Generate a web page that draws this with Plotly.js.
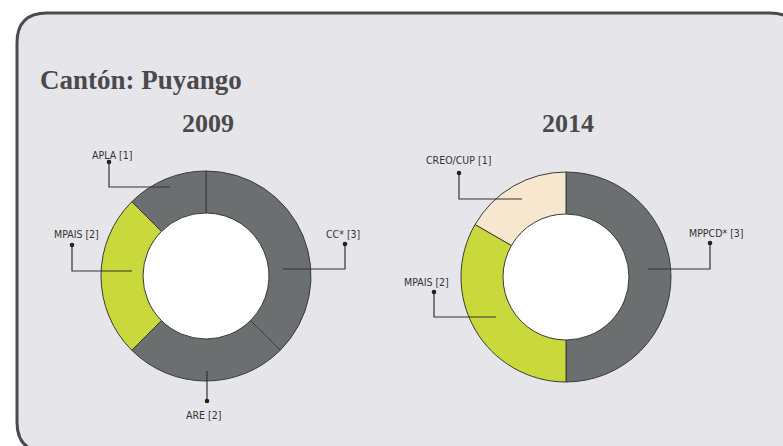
<!DOCTYPE html>
<html>
<head>
<meta charset="utf-8">
<script src="https://cdn.plot.ly/plotly-3.0.1.min.js"></script>
<style>html,body{margin:0;padding:0;background:#fff;}#chart{width:783px;height:446px;}</style>
</head>
<body>
<div id="chart"></div>
<script>
// ---- data ----
const labels2009 = ["CC*", "ARE", "MPAIS", "APLA"];
const seats2009  = [3, 2, 2, 1];
const labels2014 = ["MPPCD*", "MPAIS", "CREO/CUP"];
const seats2014  = [3, 2, 1];
const years = ["2009", "2014"];
const chartTitle = "Cantón: Puyango";

// ---- styles / layout ----
const W = 783, H = 446;
const GRAY = "#6b6f70", GREEN = "#c9d83b", CREAM = "#f7e7cf";
const colorMap = {"CC*": GRAY, "ARE": GRAY, "APLA": GRAY, "MPPCD*": GRAY, "MPAIS": GREEN, "CREO/CUP": CREAM};
const donuts = [
  {cx: 206, cy: 276, r: 105},
  {cx: 566, cy: 277, r: 105}
];
const HOLE = 0.6;
// leader geometry, pixel offsets from donut centre: dot, elbow, end, label centre
const leaders = [
  [ // 2009
    {name: "APLA",  dot: [-97, -114], elbow: [-97, -89], end: [-36, -89], lab: [-93, -121]},
    {name: "MPAIS", dot: [-134, -31], elbow: [-134, -5], end: [-74, -5], lab: [-130, -42]},
    {name: "CC*",   dot: [139, -32],  elbow: [139, -7],  end: [77, -7],  lab: [137, -42]},
    {name: "ARE",   dot: [1, 125],    elbow: [1, 125],   end: [1, 95],   lab: [-3, 139]}
  ],
  [ // 2014
    {name: "CREO/CUP", dot: [-107, -104], elbow: [-107, -78], end: [-44, -78], lab: [-108, -117]},
    {name: "MPAIS",    dot: [-132, 15],   elbow: [-132, 40],  end: [-70, 40],  lab: [-140, 5]},
    {name: "MPPCD*",   dot: [144, -34],   elbow: [144, -8],   end: [82, -8],   lab: [150, -44]}
  ]
];

const px = x => x / W;
const py = y => 1 - y / H;

const datasets = [[labels2009, seats2009], [labels2014, seats2014]];
const traces = datasets.map(([lab, val], i) => {
  const d = donuts[i];
  return {
    type: "pie",
    labels: lab,
    values: val,
    sort: false,
    direction: "clockwise",
    rotation: 0,
    hole: HOLE,
    textinfo: "none",
    hoverinfo: "none",
    showlegend: false,
    marker: {colors: lab.map(l => colorMap[l]), line: {color: "#3a3a3a", width: 1}},
    domain: {x: [px(d.cx - d.r), px(d.cx + d.r)], y: [py(d.cy + d.r), py(d.cy - d.r)]}
  };
});

const shapes = [];
// panel with rounded corners
const x0 = 17, y0 = 13, x1 = 800, y1 = 452, rr = 30;
shapes.push({
  type: "path", xref: "paper", yref: "paper", layer: "below",
  path: `M ${px(x0)} ${py(y0 + rr)} Q ${px(x0)} ${py(y0)} ${px(x0 + rr)} ${py(y0)} L ${px(x1 - rr)} ${py(y0)} Q ${px(x1)} ${py(y0)} ${px(x1)} ${py(y0 + rr)} L ${px(x1)} ${py(y1 - rr)} Q ${px(x1)} ${py(y1)} ${px(x1 - rr)} ${py(y1)} L ${px(x0 + rr)} ${py(y1)} Q ${px(x0)} ${py(y1)} ${px(x0)} ${py(y1 - rr)} Z`,
  fillcolor: "#e6e6ea", line: {color: "#4a4a52", width: 3}
});
// white hole fill
donuts.forEach(d => {
  const ri = d.r * HOLE;
  shapes.push({type: "circle", xref: "paper", yref: "paper", layer: "below",
    x0: px(d.cx - ri), x1: px(d.cx + ri), y0: py(d.cy + ri), y1: py(d.cy - ri),
    fillcolor: "#ffffff", line: {width: 0}});
});

const annotations = [{
  text: "<b>" + chartTitle + "</b>", xref: "paper", yref: "paper",
  x: px(38), y: py(80), xanchor: "left", yanchor: "middle", showarrow: false,
  font: {family: "Liberation Serif, Times New Roman, serif", size: 27, color: "#4a4a4a"}
}];
years.forEach((yr, i) => {
  annotations.push({
    text: "<b>" + yr + "</b>", xref: "paper", yref: "paper",
    x: px(donuts[i].cx + 2), y: py(123), xanchor: "center", yanchor: "middle", showarrow: false,
    font: {family: "Liberation Serif, Times New Roman, serif", size: 26, color: "#4a4a4a"}
  });
});

const valueLookup = [Object.fromEntries(labels2009.map((l, k) => [l, seats2009[k]])),
                     Object.fromEntries(labels2014.map((l, k) => [l, seats2014[k]]))];

leaders.forEach((set, i) => {
  const d = donuts[i];
  set.forEach(L => {
    const P = p => [px(d.cx + p[0]), py(d.cy + p[1])];
    const a = P(L.dot), b = P(L.elbow), c = P(L.end);
    shapes.push({type: "path", xref: "paper", yref: "paper", layer: "above",
      path: `M ${a[0]} ${a[1]} L ${b[0]} ${b[1]} L ${c[0]} ${c[1]}`,
      line: {color: "#333333", width: 1.2}});
    const dr = 2.3;
    shapes.push({type: "circle", xref: "paper", yref: "paper", layer: "above",
      x0: px(d.cx + L.dot[0] - dr), x1: px(d.cx + L.dot[0] + dr),
      y0: py(d.cy + L.dot[1] + dr), y1: py(d.cy + L.dot[1] - dr),
      fillcolor: "#222222", line: {width: 0}});
    const lp = P(L.lab);
    annotations.push({
      text: L.name + " [" + valueLookup[i][L.name] + "]", xref: "paper", yref: "paper",
      x: lp[0], y: lp[1], xanchor: "center", yanchor: "middle", showarrow: false,
      font: {family: "DejaVu Sans Condensed, Liberation Sans Narrow, Arial Narrow, sans-serif", size: 10.5, color: "#333333"}
    });
  });
});

const layout = {
  width: W, height: H,
  margin: {l: 0, r: 0, t: 0, b: 0},
  paper_bgcolor: "#ffffff",
  plot_bgcolor: "rgba(0,0,0,0)",
  showlegend: false,
  shapes: shapes,
  annotations: annotations
};

Plotly.newPlot("chart", traces, layout, {displayModeBar: false, staticPlot: true});
</script>
</body>
</html>
